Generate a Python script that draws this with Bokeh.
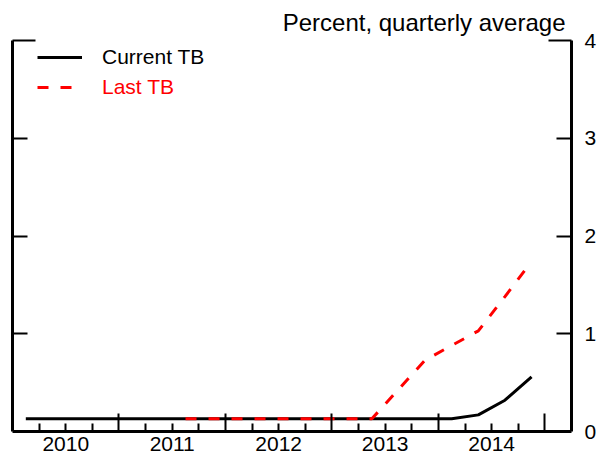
from bokeh.plotting import figure
from bokeh.models import FixedTicker, LinearAxis, Range1d, Legend, LegendItem
from bokeh.embed import file_html
from bokeh.resources import INLINE

# ---- data (quarterly averages, percent) ----
years = [2010, 2011, 2012, 2013, 2014]
quarters = [f"{y}Q{q}" for y in years for q in (1, 2, 3, 4)]
current_tb = [0.13, 0.13, 0.13, 0.13, 0.13, 0.13, 0.13, 0.13,
              0.13, 0.13, 0.13, 0.13, 0.13, 0.13, 0.13, 0.13,
              0.13, 0.17, 0.32, 0.56]
last_tb_quarters = quarters[6:]
last_tb = [0.13, 0.13, 0.13, 0.13, 0.13, 0.13, 0.13, 0.13,
           0.43, 0.73, 0.88, 1.03, 1.38, 1.74]
year_labels = ["2010", "2011", "2012", "2013", "2014"]
y_ticks = [0, 1, 2, 3, 4]

# quarter index positions (centre of each quarter)
qpos = {q: i + 0.5 for i, q in enumerate(quarters)}
x_cur = [qpos[q] for q in quarters]
x_last = [qpos[q] for q in last_tb_quarters]
year_starts = [quarters.index(f"{y}Q1") for y in years]
year_bounds = [s + 4 for s in year_starts]
year_mids = [s + 2 for s in year_starts]
quarter_bounds = [i for i in range(1, len(quarters) + 1) if i not in year_bounds]

FONT = "Liberation Sans"

p = figure(width=604, height=460, output_backend="svg", toolbar_location=None,
           x_range=Range1d(0, len(quarters) + 1), y_range=Range1d(0, 4),
           x_axis_location=None, y_axis_location=None,
           min_border_left=12, min_border_right=33, min_border_top=40,
           min_border_bottom=29)
p.outline_line_color = None
p.background_fill_color = "white"
p.border_fill_color = "white"
p.grid.visible = False

p.title.text = "Percent, quarterly average"
p.title.align = "right"
p.title.text_font = FONT
p.title.text_font_size = "24px"
p.title.text_font_style = "normal"
p.title.text_color = "black"
p.title.standoff = 10
p.title.offset = 6


def tick_axis(minor, tick_in, line=True):
    # tick marks only (minor ticks carry no labels)
    return LinearAxis(ticker=FixedTicker(ticks=[], minor_ticks=minor),
                      major_tick_in=0, major_tick_out=0,
                      minor_tick_in=tick_in, minor_tick_out=0,
                      major_label_standoff=0,
                      axis_line_width=3,
                      axis_line_color="black" if line else None,
                      minor_tick_line_width=2, minor_tick_line_color="black")


def label_axis(ticks, overrides, standoff):
    return LinearAxis(ticker=FixedTicker(ticks=ticks, minor_ticks=[]),
                      major_label_overrides=overrides,
                      axis_line_color=None, major_tick_line_color=None,
                      minor_tick_line_color=None,
                      major_tick_in=0, major_tick_out=0,
                      minor_tick_in=0, minor_tick_out=0,
                      major_label_standoff=standoff,
                      major_label_text_font=FONT,
                      major_label_text_font_size="21px",
                      major_label_text_color="black")


# bottom: quarter ticks, year ticks, then year labels
p.add_layout(tick_axis(quarter_bounds, 8), "below")
p.add_layout(tick_axis(year_bounds, 18, line=False), "below")
p.add_layout(label_axis(year_mids, {m: l for m, l in zip(year_mids, year_labels)}, 5), "below")

# left: short ticks, plus long tick at top
p.add_layout(tick_axis(y_ticks[1:-1], 15), "left")
p.add_layout(tick_axis([y_ticks[-1]], 23, line=False), "left")

# right: short ticks, long tick at top, then labels
p.add_layout(tick_axis(y_ticks[1:-1], 15), "right")
p.add_layout(tick_axis([y_ticks[-1]], 23, line=False), "right")
p.add_layout(label_axis(y_ticks, {t: str(t) for t in y_ticks}, 13), "right")

r_cur = p.line(x_cur, current_tb, line_color="black", line_width=3)
r_last = p.line(x_last, last_tb, line_color="#FF0000", line_width=3, line_dash="11 12")


def make_legend(label, rend, color, loc):
    return Legend(items=[LegendItem(label=label, renderers=[rend])],
                  location=loc, orientation="vertical",
                  border_line_color=None, background_fill_alpha=0,
                  padding=0, margin=0, spacing=0,
                  glyph_width=45, glyph_height=24, label_height=24,
                  label_standoff=20, label_text_font=FONT,
                  label_text_font_size="21px", label_text_color=color)


p.add_layout(make_legend("Current TB", r_cur, "black", (25, 362)))
p.add_layout(make_legend("Last TB", r_last, "#FF0000", (25, 332)))

open("out.html", "w").write(file_html(p, INLINE))
